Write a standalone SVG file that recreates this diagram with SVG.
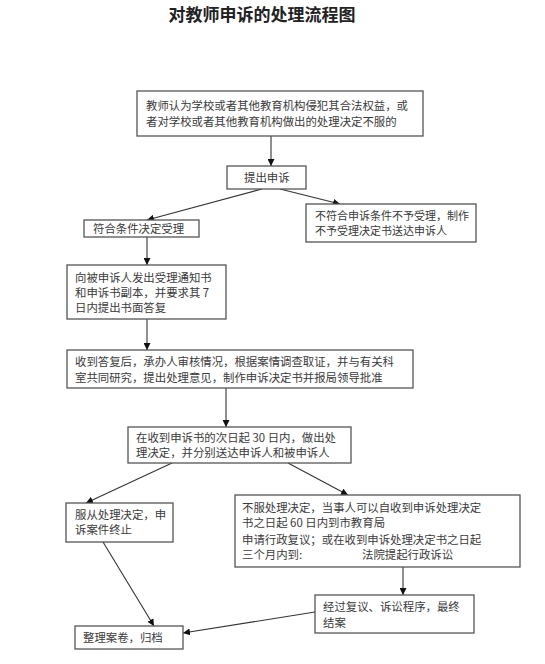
<svg xmlns="http://www.w3.org/2000/svg" width="545" height="664" viewBox="0 0 545 664">
<style>
.box{fill:#fff;stroke:#555;stroke-width:1.3}
.t{font-family:"Noto Sans CJK SC","Noto Sans",sans-serif;font-size:11.4px;fill:#3a3a3a}
.s{font-size:11px}
.title{font-family:"Noto Sans CJK SC","Noto Sans",sans-serif;font-size:17px;font-weight:bold;fill:#222}
.c line{stroke:#333;stroke-width:1.1;marker-end:url(#ah)}
</style>
<defs>
<marker id="ah" viewBox="0 0 10 10" refX="10" refY="5" markerWidth="7" markerHeight="7" orient="auto" markerUnits="userSpaceOnUse">
<path d="M0,0 L10,5 L0,10 z" fill="#111"/>
</marker>
</defs>
<rect width="545" height="664" fill="#fff"/>
<text class="title" x="262" y="21" text-anchor="middle">对教师申诉的处理流程图</text>
<g class="c" id="connectors">
<line x1="271" y1="136" x2="271" y2="166"/>
<line x1="262" y1="189" x2="147" y2="220"/>
<line x1="280" y1="189" x2="340" y2="204"/>
<line x1="147" y1="237" x2="147" y2="265"/>
<line x1="147" y1="319" x2="147" y2="350"/>
<line x1="226" y1="388" x2="226" y2="427"/>
<line x1="172" y1="463" x2="86" y2="503"/>
<line x1="288" y1="463" x2="348" y2="495"/>
<line x1="403" y1="567" x2="403" y2="595"/>
<line x1="103" y1="542" x2="154" y2="626"/>
<line x1="315" y1="612" x2="183" y2="633"/>
</g>
<g id="n1"><rect class="box" x="137" y="91" width="286" height="45"/>
<text class="t" x="146" y="110">教师认为学校或者其他教育机构侵犯其合法权益，或</text>
<text class="t" x="146" y="126">者对学校或者其他教育机构做出的处理决定不服的</text></g>
<g id="n2"><rect class="box" x="227" y="166" width="79" height="23"/>
<text class="t" x="244" y="182">提出申诉</text></g>
<g id="n3"><rect class="box" x="84" y="220" width="115" height="17"/>
<text class="t" x="93" y="233">符合条件决定受理</text></g>
<g id="n4"><rect class="box" x="306" y="204" width="170" height="38"/>
<text class="t s" x="315" y="220">不符合申诉条件不予受理，制作</text>
<text class="t s" x="315" y="235">不予受理决定书送达申诉人</text></g>
<g id="n5"><rect class="box" x="67" y="265" width="159" height="54"/>
<text class="t" x="75" y="282">向被申诉人发出受理通知书</text>
<text class="t" x="75" y="297">和申诉书副本，并要求其 7</text>
<text class="t" x="75" y="312">日内提出书面答复</text></g>
<g id="n6"><rect class="box" x="67" y="350" width="346" height="38"/>
<text class="t" x="75" y="366">收到答复后，承办人审核情况，根据案情调查取证，并与有关科</text>
<text class="t" x="75" y="382">室共同研究，提出处理意见，制作申诉决定书并报局领导批准</text></g>
<g id="n7"><rect class="box" x="128" y="427" width="223" height="36"/>
<text class="t" x="136" y="442">在收到申诉书的次日起 30 日内，做出处</text>
<text class="t" x="136" y="457">理决定，并分别送达申诉人和被申诉人</text></g>
<g id="n8"><rect class="box" x="66" y="503" width="107" height="39"/>
<text class="t" x="75" y="519">服从处理决定，申</text>
<text class="t" x="75" y="534">诉案件终止</text></g>
<g id="n9"><rect class="box" x="235" y="495" width="285" height="72"/>
<text class="t" x="242" y="512">不服处理决定，当事人可以自收到申诉处理决定</text>
<text class="t" x="242" y="527">书之日起 60 日内到市教育局</text>
<text class="t" x="242" y="544">申请行政复议；或在收到申诉处理决定书之日起</text>
<text class="t" x="242" y="559">三个月内到:</text>
<text class="t" x="362" y="559">法院提起行政诉讼</text></g>
<g id="n10"><rect class="box" x="315" y="595" width="159" height="38"/>
<text class="t" x="323" y="611">经过复议、诉讼程序，最终</text>
<text class="t" x="323" y="627">结案</text></g>
<g id="n11"><rect class="box" x="75" y="626" width="108" height="23"/>
<text class="t" x="83" y="642">整理案卷，归档</text></g>
</svg>
